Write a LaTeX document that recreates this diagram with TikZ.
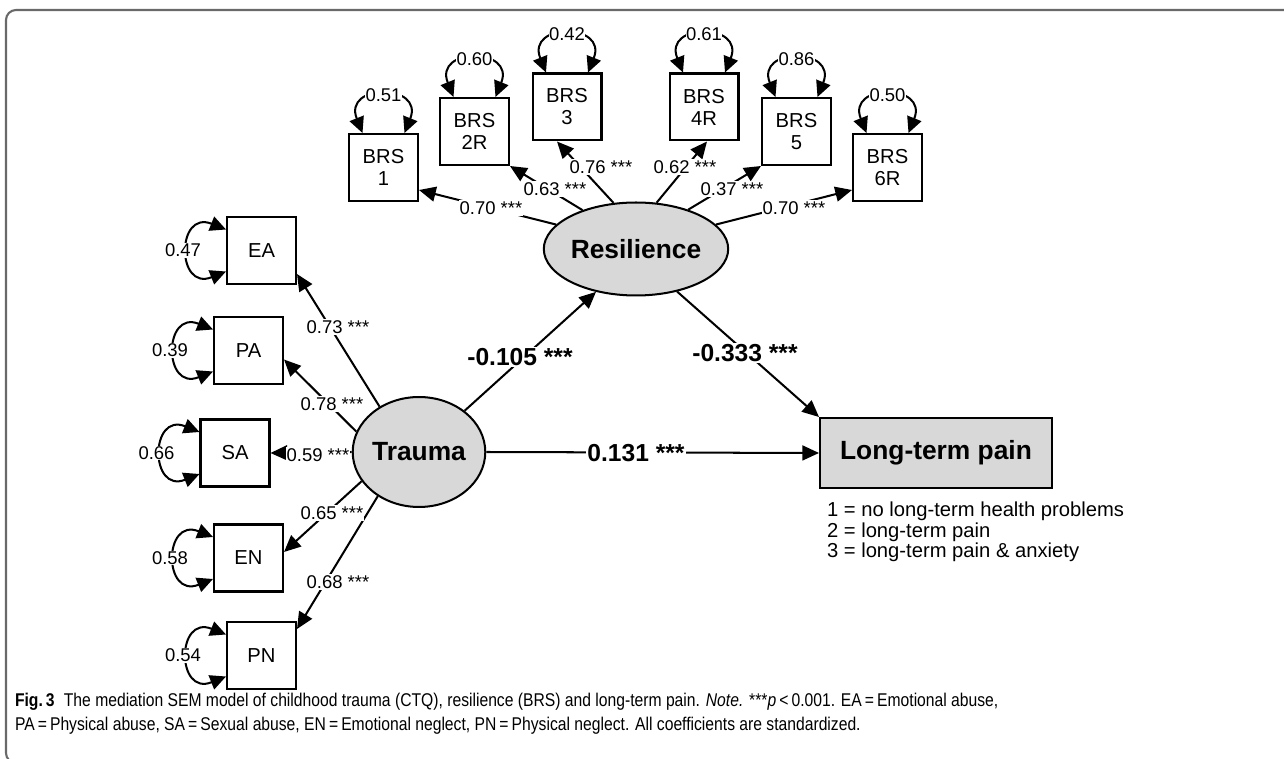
\documentclass[tikz,border=0pt]{standalone}
\usepackage{fontspec}
\setmainfont{Liberation Sans}
\newfontfamily\capfont[FakeStretch=0.85]{Liberation Sans}
\usetikzlibrary{arrows.meta,shapes.geometric,calc}
\definecolor{latgray}{RGB}{216,216,216}
\definecolor{framegray}{RGB}{105,105,105}

% residual variance loop above a box: #1 node, #2 label name, #3 value
\newcommand{\uploop}[3]{%
  \draw[dtip] ([xshift=-0.42cm]#1.north) .. controls +(-20,-50) and +(20,-50) .. ([xshift=0.42cm]#1.north);
  \node[var] (#2) at ($(#1.north)+(0,-38)$) {#3};}
% residual variance loop left of a box
\newcommand{\leftloop}[3]{%
  \draw[dtip] ([yshift=0.42cm]#1.west) .. controls +(-50,-20) and +(-50,20) .. ([yshift=-0.42cm]#1.west);
  \node[var] (#2) at ($(#1.west)+(-43,0)$) {#3};}

\begin{document}
\begin{tikzpicture}[x=0.02cm,y=-0.02cm,
  line width=1.15pt,
  tip/.style={-{Triangle[length=9.5pt,width=8.5pt]}},
  dtip/.style={{Triangle[length=9pt,width=8.5pt]}-{Triangle[length=9pt,width=8.5pt]}},
  obs/.style={draw,rectangle,minimum width=1.38cm,minimum height=1.34cm,inner sep=0pt,
    align=center,font=\fontsize{11.5}{12.5}\selectfont},
  lat/.style={draw,ellipse,fill=latgray,inner sep=0pt,font=\fontsize{15}{18}\bfseries},
  coef/.style={fill=white,inner sep=0.6pt,font=\fontsize{10.5}{12}\selectfont},
  bcoef/.style={fill=white,inner sep=0.6pt,font=\fontsize{14}{16}\bfseries},
  var/.style={fill=white,inner sep=0.3pt,font=\fontsize{10.5}{12}\selectfont}
]
\useasboundingbox (0,0) rectangle (1284,759);
\clip (0,0) rectangle (1284,759);

% panel frame
\draw[framegray,line width=1.2pt,rounded corners=0.2cm] (1300,10) -- (6,10) -- (6,763) -- (1300,763);

% resilience indicators
\node[obs] (b1) at (383.5,167.5) {BRS\\1};
\node[obs] (b2) at (474.5,131.5) {BRS\\2R};
\node[obs] (b3) at (567,107) {BRS\\3};
\node[obs] (b4) at (704,107) {BRS\\4R};
\node[obs] (b5) at (796.5,131.5) {BRS\\5};
\node[obs] (b6) at (887.5,167.5) {BRS\\6R};

% trauma indicators
\node[obs] (ea) at (261.5,250.5) {EA};
\node[obs] (pa) at (248.5,350.5) {PA};
\node[obs] (sa) at (235,453) {SA};
\node[obs] (en) at (248.5,558) {EN};
\node[obs] (pn) at (261.5,655.5) {PN};

% latent variables and outcome
\node[lat,minimum width=3.5cm,minimum height=1.86cm] (res) at (636,249) {Resilience};
\node[lat,minimum width=2.56cm,minimum height=2.2cm] (tra) at (419,452) {Trauma};
\node[draw,fill=latgray,minimum width=4.64cm,minimum height=1.4cm,inner sep=0pt,
  font=\fontsize{15}{18}\bfseries] (ltp) at (936,453) {Long-term pain};
\node[anchor=west,align=left,inner sep=0pt,font=\fontsize{11.5}{11.8}\selectfont] (leg) at (826,532)
  {1 = no long-term health problems\\2 = long-term pain\\3 = long-term pain \& anxiety};

% loadings of resilience
\draw[tip] (res.163) -- ($(b1.south east)+(0,-12)$);
\draw[tip] (res.144) -- (b2.south east);
\draw[tip] (res.116) -- ($(b3.south)+(-10,0)$);
\draw[tip] (res.66) -- ($(b4.south)+(3,0)$);
\draw[tip] (res.37) -- (b5.south west);
\draw[tip] (res.17) -- ($(b6.south west)+(0,-12)$);
\node[coef] (c1) at (491,208) {0.70 ***};
\node[coef] (c2) at (555,189) {0.63 ***};
\node[coef] (c3) at (601,167) {0.76 ***};
\node[coef] (c4) at (685,167) {0.62 ***};
\node[coef] (c5) at (732,189) {0.37 ***};
\node[coef] (c6) at (794,208) {0.70 ***};

% loadings of trauma
\draw[tip] (tra.131) -- ($(ea.south east)+(0,-11)$);
\draw[tip] (tra.162) -- ($(pa.east)+(0,9)$);
\draw[tip] (tra.west) -- (sa.east);
\draw[tip] (tra.207) -- ($(en.east)+(0,-6)$);
\draw[tip] (tra.227) -- ($(pn.north east)+(0,8)$);
\node[coef] (t1) at (338,327) {0.73 ***};
\node[coef] (t2) at (332,404) {0.78 ***};
\node[coef] (t3) at (318,455) {0.59 ***};
\node[coef] (t4) at (332,513) {0.65 ***};
\node[coef] (t5) at (338,582) {0.68 ***};

% structural paths
\draw[tip] (tra) -- (res.227);
\draw[tip] (res.314) -- (ltp.north west);
\draw[tip] (tra.east) -- (ltp.west);
\node[bcoef] (p1) at (520,357) {-0.105 ***};
\node[bcoef] (p2) at (745,353) {-0.333 ***};
\node[bcoef] (p3) at (636,453) {0.131 ***};

% residual variances
\uploop{b1}{e1}{0.51}
\uploop{b2}{e2}{0.60}
\uploop{b3}{e3}{0.42}
\uploop{b4}{e4}{0.61}
\uploop{b5}{e5}{0.86}
\uploop{b6}{e6}{0.50}
\leftloop{ea}{d1}{0.47}
\leftloop{pa}{d2}{0.39}
\leftloop{sa}{d3}{0.66}
\leftloop{en}{d4}{0.58}
\leftloop{pn}{d5}{0.54}

% caption
\node[anchor=west,inner sep=0pt,font=\capfont\fontsize{10.5}{12}\selectfont] (cap1) at (14,702)
  {\textbf{Fig.\,3}\enspace The mediation SEM model of childhood trauma (CTQ), resilience (BRS) and long-term pain. \textit{Note.} ***\textit{p}\,<\,0.001. EA\,=\,Emotional abuse,};
\node[anchor=west,inner sep=0pt,font=\capfont\fontsize{10.5}{12}\selectfont] (cap2) at (14,726)
  {PA\,=\,Physical abuse, SA\,=\,Sexual abuse, EN\,=\,Emotional neglect, PN\,=\,Physical neglect. All coefficients are standardized.};
\end{tikzpicture}
\end{document}
